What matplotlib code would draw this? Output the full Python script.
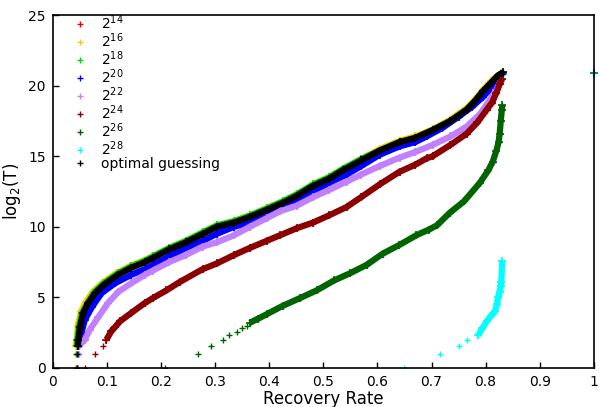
import matplotlib
matplotlib.use("Agg")
import matplotlib.pyplot as plt

# recovery rate (x) against log2 of number of guesses (y)
labels = ["$2^{14}$", "$2^{16}$", "$2^{18}$", "$2^{20}$", "$2^{22}$",
          "$2^{24}$", "$2^{26}$", "$2^{28}$", "optimal guessing"]
colors = ["#ff0000", "#ffc800", "#00dd00", "#0000ff", "#c080ff",
          "#8b0000", "#006400", "#00ffff", "#000000"]

x_14 = [0.042, 0.043, 0.044, 0.045, 0.048, 0.054, 0.063, 0.076, 0.093, 0.119, 0.144, 0.169, 0.185,
        0.215, 0.246, 0.277, 0.303, 0.335, 0.364, 0.395, 0.425, 0.451, 0.481, 0.510, 0.536, 0.570,
        0.604, 0.641, 0.670, 0.702, 0.735, 0.765, 0.780, 0.795, 0.810, 0.822, 0.831]
y_14 = [0.0, 1.0, 1.58, 2.0, 2.9, 3.9, 4.6, 5.3, 5.9, 6.6, 7.1, 7.5, 7.8,
        8.4, 8.9, 9.5, 10.0, 10.3, 10.7, 11.2, 11.7, 12.2, 12.9, 13.4, 14.0, 14.7,
        15.4, 16.0, 16.3, 16.85, 17.5, 18.3, 18.9, 19.6, 20.2, 20.6, 20.9]

x_16 = [0.042, 0.042, 0.043, 0.044, 0.046, 0.052, 0.061, 0.074, 0.091, 0.117, 0.142, 0.168, 0.184,
        0.215, 0.246, 0.277, 0.303, 0.335, 0.364, 0.395, 0.425, 0.451, 0.481, 0.510, 0.536, 0.570,
        0.604, 0.641, 0.670, 0.702, 0.735, 0.765, 0.780, 0.795, 0.810, 0.822, 0.831]
y_16 = [0.0, 1.0, 1.58, 2.0, 3.0, 4.0, 4.7, 5.4, 6.0, 6.7, 7.2, 7.6, 7.9,
        8.5, 9.0, 9.6, 10.1, 10.4, 10.8, 11.3, 11.8, 12.3, 13.0, 13.5, 14.1, 14.8,
        15.5, 16.1, 16.4, 16.9, 17.6, 18.4, 19.0, 19.7, 20.3, 20.7, 20.9]

x_18 = [0.043, 0.043, 0.044, 0.045, 0.048, 0.054, 0.064, 0.077, 0.094, 0.120, 0.145, 0.170, 0.185,
        0.215, 0.246, 0.277, 0.303, 0.335, 0.364, 0.395, 0.425, 0.451, 0.481, 0.510, 0.536, 0.570,
        0.604, 0.641, 0.670, 0.702, 0.735, 0.765, 0.780, 0.795, 0.810, 0.822, 0.832]
y_18 = [0.0, 1.0, 1.58, 2.0, 2.9, 3.9, 4.6, 5.4, 6.0, 6.7, 7.2, 7.6, 7.9,
        8.5, 9.0, 9.6, 10.1, 10.4, 10.8, 11.3, 11.8, 12.3, 13.0, 13.5, 14.1, 14.8,
        15.4, 16.0, 16.3, 16.85, 17.5, 18.3, 18.9, 19.6, 20.2, 20.6, 20.8]

x_20 = [0.045, 0.047, 0.048, 0.050, 0.053, 0.059, 0.072, 0.090, 0.115, 0.145, 0.170, 0.185,
        0.215, 0.246, 0.277, 0.303, 0.335, 0.364, 0.395, 0.420, 0.451, 0.481, 0.510, 0.543, 0.570,
        0.604, 0.641, 0.670, 0.691, 0.720, 0.750, 0.775, 0.795, 0.812, 0.826, 0.830]
y_20 = [0.0, 1.0, 1.58, 2.0, 2.5, 3.4, 4.3, 5.3, 6.0, 6.6, 7.0, 7.3,
        7.9, 8.5, 9.0, 9.5, 10.0, 10.3, 10.9, 11.4, 11.9, 12.5, 13.1, 13.7, 14.3,
        15.1, 15.7, 16.0, 16.4, 17.0, 17.8, 18.5, 19.2, 19.9, 20.6, 20.8]

x_22 = [0.047, 0.048, 0.049, 0.059, 0.068, 0.084, 0.102, 0.121, 0.145, 0.170, 0.185,
        0.215, 0.246, 0.277, 0.303, 0.335, 0.364, 0.395, 0.420, 0.451, 0.481, 0.510, 0.543, 0.570,
        0.604, 0.641, 0.670, 0.702, 0.735, 0.765, 0.790, 0.808, 0.820, 0.828]
y_22 = [0.0, 1.0, 1.58, 2.0, 2.7, 3.6, 4.6, 5.4, 6.0, 6.6, 6.9,
        7.5, 8.0, 8.6, 8.9, 9.4, 10.0, 10.6, 11.1, 11.5, 12.1, 12.6, 13.2, 13.7,
        14.3, 14.9, 15.3, 15.8, 16.4, 17.1, 18.0, 19.0, 19.7, 20.3]

x_24 = [0.059, 0.078, 0.092, 0.099, 0.108, 0.115, 0.124, 0.145, 0.170, 0.185, 0.210, 0.235,
        0.277, 0.303, 0.335, 0.364, 0.395, 0.420, 0.451, 0.481, 0.510, 0.543, 0.570, 0.604,
        0.641, 0.670, 0.691, 0.702, 0.735, 0.765, 0.785, 0.802, 0.812, 0.820, 0.826, 0.830]
y_24 = [0.0, 1.0, 1.58, 2.0, 2.6, 2.9, 3.3, 3.9, 4.6, 4.95, 5.5, 6.1,
        7.0, 7.4, 8.0, 8.5, 9.0, 9.4, 9.9, 10.3, 10.8, 11.4, 12.1, 13.0,
        13.9, 14.4, 14.85, 15.0, 15.8, 16.6, 17.4, 18.3, 18.8, 19.5, 20.1, 20.5]

x_26 = [0.207, 0.268, 0.292, 0.314, 0.326, 0.340, 0.350, 0.358, 0.364, 0.380, 0.395, 0.425,
        0.457, 0.488, 0.520, 0.549, 0.580, 0.610, 0.640, 0.672, 0.695, 0.710, 0.734,
        0.760, 0.789, 0.805, 0.813, 0.820, 0.824, 0.826, 0.828, 0.830, 0.831]
y_26 = [0.0, 1.0, 1.58, 2.0, 2.32, 2.58, 2.81, 3.0, 3.2, 3.5, 3.8, 4.4,
        4.95, 5.5, 6.2, 6.7, 7.3, 8.1, 8.7, 9.4, 9.8, 10.1, 11.0,
        11.8, 13.1, 14.0, 14.6, 15.4, 16.0, 16.6, 17.5, 18.3, 18.6]

x_28 = [0.649, 0.715, 0.750, 0.765, 0.786, 0.794, 0.802, 0.810, 0.817, 0.821, 0.823, 0.826,
        0.828, 0.829, 0.831]
y_28 = [0.0, 1.0, 1.58, 2.0, 2.3, 2.8, 3.3, 3.7, 4.0, 4.5, 5.0, 5.4, 5.8, 6.1, 7.6]

x_opt = [0.044, 0.0455, 0.046, 0.047, 0.050, 0.056, 0.065, 0.078, 0.094, 0.120, 0.145, 0.170, 0.185,
         0.215, 0.246, 0.277, 0.303, 0.335, 0.364, 0.395, 0.425, 0.451, 0.481, 0.510, 0.536, 0.570,
         0.604, 0.641, 0.670, 0.702, 0.735, 0.765, 0.780, 0.795, 0.810, 0.822, 0.832]
y_opt = [0.0, 1.0, 1.58, 2.0, 2.9, 3.9, 4.6, 5.3, 5.9, 6.6, 7.1, 7.5, 7.8,
         8.4, 8.9, 9.5, 10.0, 10.3, 10.7, 11.2, 11.7, 12.2, 12.9, 13.4, 14.0, 14.7,
         15.4, 16.0, 16.3, 16.85, 17.5, 18.3, 18.9, 19.6, 20.2, 20.7, 20.95]

# stray point sitting on the right spine
x_stray = [1.0]
y_stray = [20.9]

series_x = [x_14, x_16, x_18, x_20, x_22, x_24, x_26, x_28, x_opt]
series_y = [y_14, y_16, y_18, y_20, y_22, y_24, y_26, y_28, y_opt]
# how many of the first points are isolated guesses (drawn as markers only)
n_sparse = [3, 3, 3, 3, 3, 4, 9, 5, 3]

fig = plt.figure(figsize=(6.01, 4.07), dpi=100)
ax = fig.add_axes([0.088, 0.096, 0.900, 0.867])

for xs, ys, c, lab, ns in zip(series_x, series_y, colors, labels, n_sparse):
    ax.plot(xs, ys, ls="none", marker="+", ms=5, mew=1, color=c, label=lab)
    ax.plot(xs[ns - 1:], ys[ns - 1:], ls="-", lw=4.5, color=c,
            solid_capstyle="butt")
    ax.plot(xs[ns - 1:], ys[ns - 1:], ls="none", marker="+", ms=6, mew=1.2, color=c)

ax.plot(x_stray, y_stray, ls="none", marker="+", ms=6, mew=1.5, color="#008b8b",
        clip_on=False)

ax.set_xlim(0, 1)
ax.set_ylim(0, 25)
ax.set_xticks([0, 0.1, 0.2, 0.3, 0.4, 0.5, 0.6, 0.7, 0.8, 0.9, 1])
ax.set_xticklabels(["0", "0.1", "0.2", "0.3", "0.4", "0.5", "0.6", "0.7", "0.8", "0.9", "1"])
ax.set_yticks([0, 5, 10, 15, 20, 25])
ax.tick_params(direction="in", length=4, width=1, labelsize=10, pad=5)
for sp in ax.spines.values():
    sp.set_linewidth(1.2)

ax.set_xlabel("Recovery Rate", fontsize=12, labelpad=1)
ax.set_ylabel("log$_2$(T)", fontsize=12)

ax.legend(loc="upper left", bbox_to_anchor=(0.031, 1.006), frameon=False,
          fontsize=10, numpoints=1, handlelength=1.5, handletextpad=0.76,
          labelspacing=-0.04, borderaxespad=0, borderpad=0)

fig.savefig("out.png", dpi=100)
